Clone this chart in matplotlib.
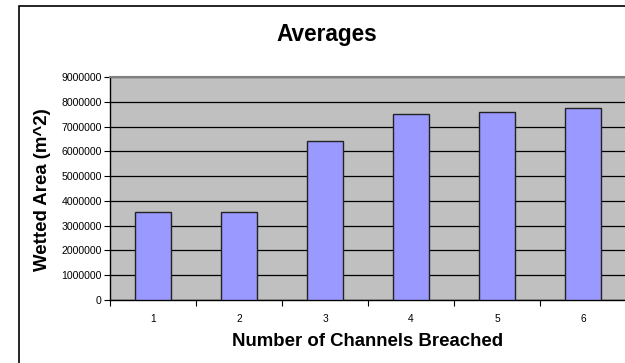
import matplotlib.pyplot as plt
from matplotlib.patches import Rectangle
from matplotlib.ticker import FixedLocator
import numpy as np

plt.rcParams['font.family'] = ['Liberation Sans', 'DejaVu Sans']

channels = [1, 2, 3, 4, 5, 6]
wetted_area = [3560000, 3560000, 6410000, 7500000, 7570000, 7750000]
yticks = np.arange(0, 9000001, 1000000)

fig = plt.figure(figsize=(6.25, 3.63), dpi=100)

# chart frame (runs off the right and bottom edges)
fig.patches.append(Rectangle((19 / 625, -0.05), 1.0, 1 - 6 / 363 + 0.05,
                             transform=fig.transFigure, fill=False,
                             edgecolor='black', linewidth=1.2))

ax = fig.add_axes([110 / 625, 1 - 300 / 363, 516 / 625, 223 / 363])
ax.set_facecolor('#c0c0c0')

x = np.arange(len(channels))
ax.bar(x, wetted_area, width=0.41, color='#9999ff', edgecolor='#222222',
       linewidth=1.0, zorder=3)

ax.set_xlim(-0.5, len(channels) - 0.5)
ax.set_ylim(0, 9000000)
ax.set_yticks(yticks)
ax.set_yticklabels([str(v) for v in yticks])
ax.yaxis.grid(True, color='black', linewidth=0.9, zorder=1)
ax.set_axisbelow(True)

ax.set_xticks(x)
ax.set_xticklabels([str(c) for c in channels])
ax.xaxis.set_minor_locator(FixedLocator(np.arange(-0.5, len(channels), 1.0)))
ax.tick_params(axis='x', which='major', length=0, pad=10, labelsize=7.3)
ax.tick_params(axis='x', which='minor', length=4, width=0.8, direction='out')
ax.tick_params(axis='y', length=4, width=0.8, labelsize=7.6, pad=2)

for side in ['left', 'bottom']:
    ax.spines[side].set_color('black')
    ax.spines[side].set_linewidth(1.0)
ax.spines['top'].set_color('#808080')
ax.spines['top'].set_linewidth(1.5)
ax.spines['right'].set_visible(False)

fig.text(327 / 625, 1 - 35 / 363, 'Averages', ha='center', va='center',
         fontsize=16.3, fontweight='bold')
fig.text(368 / 625, 1 - 341 / 363, 'Number of Channels Breached',
         ha='center', va='center', fontsize=13.4, fontweight='bold')
fig.text(43 / 625, 1 - 190 / 363, 'Wetted Area (m^2)', ha='center',
         va='center', rotation=90, fontsize=13.4, fontweight='bold')

fig.savefig('out.png', dpi=100)
